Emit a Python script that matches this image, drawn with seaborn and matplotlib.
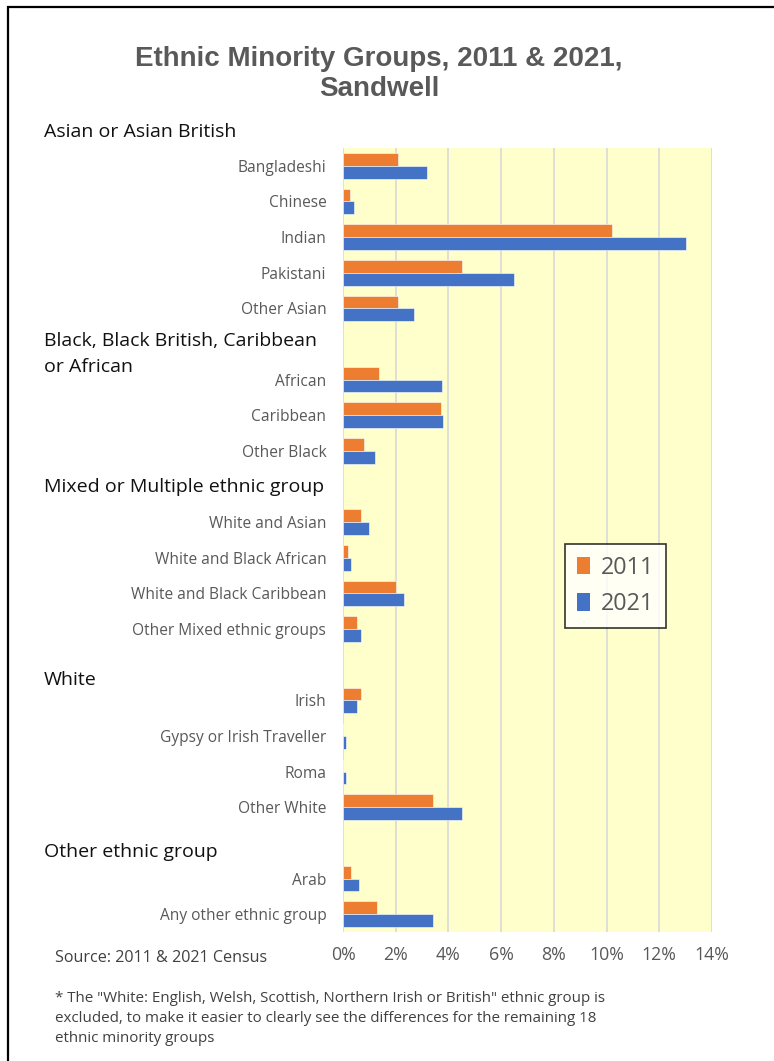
import matplotlib
matplotlib.use("Agg")
import matplotlib.pyplot as plt
import seaborn as sns
import pandas as pd
import numpy as np
from matplotlib.patches import Rectangle, Patch

# ---------------- data ----------------
rows = ["Bangladeshi", "Chinese", "Indian", "Pakistani", "Other Asian", "_gap1",
        "African", "Caribbean", "Other Black", "_gap2",
        "White and Asian", "White and Black African", "White and Black Caribbean",
        "Other Mixed ethnic groups", "_gap3",
        "Irish", "Gypsy or Irish Traveller", "Roma", "Other White", "_gap4",
        "Arab", "Any other ethnic group"]
cats = [r for r in rows if not r.startswith("_gap")]
v2011 = [2.1, 0.27, 10.2, 4.5, 2.1,
         1.37, 3.7, 0.8,
         0.7, 0.2, 2.0, 0.53,
         0.7, 0.0, 0.0, 3.4,
         0.3, 1.3]
v2021 = [3.2, 0.4, 13.0, 6.5, 2.7,
         3.75, 3.8, 1.2,
         1.0, 0.3, 2.3, 0.7,
         0.52, 0.12, 0.12, 4.5,
         0.6, 3.4]
years = ["2011", "2021"]
group_headers = ["Asian or Asian British", "Black, Black British, Caribbean\nor African",
                 "Mixed or Multiple ethnic group", "White", "Other ethnic group"]
xticks = [0, 2, 4, 6, 8, 10, 12, 14]

df = pd.DataFrame({
    "cat": cats * 2,
    "year": [years[0]] * len(cats) + [years[1]] * len(cats),
    "val": v2011 + v2021,
})

# ---------------- style ----------------
sns.set_theme(style="white")
plt.rcParams["font.family"] = ["Open Sans", "DejaVu Sans"]

ORANGE = "#ED7D31"
BLUE = "#4472C4"
GREY = "#595959"

W, H = 774, 1061
fig = plt.figure(figsize=(W / 100, H / 100), dpi=100)

def fx(px):
    return px / W

def fy(py):
    return 1 - py / H

ax = fig.add_axes([fx(343), fy(932), fx(712) - fx(343), fy(148) - fy(932)])
sns.barplot(data=df, y="cat", x="val", hue="year", order=rows,
            hue_order=years, palette=[ORANGE, BLUE], orient="h",
            width=0.72, ax=ax, legend=False, saturation=1,
            edgecolor="#ffffff", linewidth=0.4)

ax.set_facecolor("#FFFFCC")
ax.set_xlim(0, 14)
ax.set_ylim(len(rows) - 0.5, -0.5)
ax.set_xticks(xticks)
ax.set_xticklabels([f"{t}%" for t in xticks], color=GREY, fontsize=12.8)
ax.set_yticks(range(len(rows)))
ax.set_yticklabels(["" if r.startswith("_gap") else r for r in rows],
                   color=GREY, fontsize=11.2)
ax.tick_params(axis="y", length=0, pad=12)
ax.tick_params(axis="x", length=0, pad=10)
ax.set_xlabel("")
ax.set_ylabel("")
for s in ax.spines.values():
    s.set_visible(False)
ax.xaxis.grid(True, color="#D9D9D9", linewidth=1.2)
ax.set_axisbelow(True)

# legend
handles = [Patch(facecolor=ORANGE, edgecolor="none"), Patch(facecolor=BLUE, edgecolor="none")]
leg = ax.legend(handles, years, loc="upper left",
                bbox_to_anchor=((565 - 343) / (712 - 343), 1 - (544 - 148) / (932 - 148)),
                frameon=True, fancybox=False, fontsize=16.8, handlelength=0.55,
                handleheight=0.8, handletextpad=0.5, labelspacing=0.55,
                borderpad=0.5, borderaxespad=0, labelcolor=GREY)
leg.get_frame().set_edgecolor("#000000")
leg.get_frame().set_linewidth(1.2)

# group headers
header_y = [132, 354, 487, 680, 852]
for txt, y in zip(group_headers, header_y):
    fig.text(fx(44), fy(y), txt, ha="left", va="center", fontsize=14,
             color="#111111", linespacing=1.5)

# title
fig.text(fx(379), fy(74), "Ethnic Minority Groups, 2011 & 2021,\nSandwell",
         ha="center", va="center", fontsize=20, fontweight="bold", color=GREY,
         family=["Liberation Sans", "DejaVu Sans"], linespacing=1.2)

# source & footnote
fig.text(fx(55), fy(958), "Source: 2011 & 2021 Census", ha="left", va="center",
         fontsize=11.6, color="#404040")
fig.text(fx(55), fy(991),
         "* The \"White: English, Welsh, Scottish, Northern Irish or British\" ethnic group is\n"
         "excluded, to make it easier to clearly see the differences for the remaining 18\n"
         "ethnic minority groups",
         ha="left", va="top", fontsize=10.9, color="#404040", linespacing=1.45)

# frame around the chart
fig.add_artist(Rectangle((fx(8), fy(1080)), fx(800) - fx(8), fy(7) - fy(1080),
                         transform=fig.transFigure, fill=False, edgecolor="#000000",
                         linewidth=1.6, clip_on=False))

fig.savefig("out.png", dpi=100)
